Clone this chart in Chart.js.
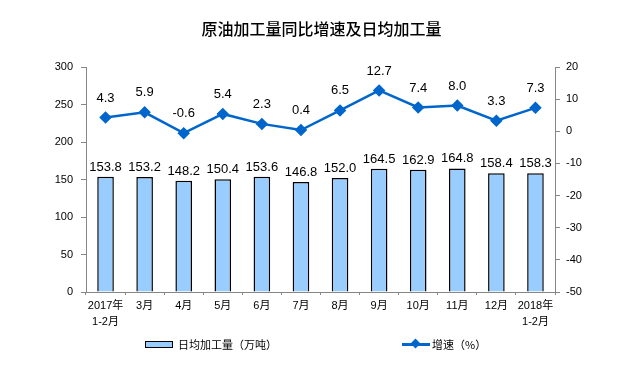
<!DOCTYPE html>
<html>
<head>
<meta charset="utf-8">
<script src="https://cdn.jsdelivr.net/npm/chart.js@4.4.1/dist/chart.umd.min.js"></script>
<style>
  body { margin: 0; background: #fff; }
  #wrap { position: relative; width: 633px; height: 372px; font-family: 'Liberation Sans', 'Noto Sans CJK SC', sans-serif; }
  #title { position: absolute; top: 16px; left: 5px; width: 633px; text-align: center; font-size: 16px; color: #000; font-family: 'Noto Sans CJK SC', sans-serif; font-weight: 500; }
  .leg { position: absolute; top: 336px; font-size: 11px; color: #000; font-family: 'Noto Sans CJK SC', sans-serif; line-height: 16px; }
  .box { position: absolute; left: 145px; top: 341px; width: 26px; height: 5px; background: #99ccff; border: 1px solid #000; }
  .ln { position: absolute; left: 402px; top: 343px; width: 28px; height: 3px; background: #0066cc; }
  .dia { position: absolute; left: 412px; top: 340px; width: 7px; height: 7px; background: #0066cc; transform: rotate(45deg); }
</style>
</head>
<body>
<div id="wrap">
  <canvas id="chart" width="633" height="372"></canvas>
  <div id="title">原油加工量同比增速及日均加工量</div>
  <div class="box"></div>
  <div class="leg" style="left:178px">日均加工量（万吨）</div>
  <div class="ln"></div><div class="dia"></div>
  <div class="leg" style="left:432px">增速（%）</div>
</div>
<script>
// months on the x axis
const months = [['2017年', '1-2月'], '3月', '4月', '5月', '6月', '7月', '8月', '9月', '10月', '11月', '12月', ['2018年', '1-2月']];
// daily average crude processing, 10k tonnes
const dailyOutput = [153.8, 153.2, 148.2, 150.4, 153.6, 146.8, 152.0, 164.5, 162.9, 164.8, 158.4, 158.3];
// year-on-year growth, %
const growth = [4.3, 5.9, -0.6, 5.4, 2.3, 0.4, 6.5, 12.7, 7.4, 8.0, 3.3, 7.3];

const labelPlugin = {
  id: 'valueLabels',
  afterDatasetsDraw(chart) {
    const ctx = chart.ctx;
    ctx.save();
    ctx.font = '13px "Liberation Sans", Arial, sans-serif';
    ctx.fillStyle = '#000';
    ctx.textAlign = 'center';
    ctx.textBaseline = 'bottom';
    chart.data.datasets.forEach((ds, i) => {
      const meta = chart.getDatasetMeta(i);
      meta.data.forEach((el, j) => {
        const off = ds.type === 'line' ? 13 : 3;
        ctx.fillText(ds.data[j].toFixed(1), el.x, el.y - off);
      });
    });
    ctx.restore();
  }
};

new Chart(document.getElementById('chart'), {
  data: {
    labels: months,
    datasets: [
      {
        type: 'line',
        label: '增速（%）',
        data: growth,
        yAxisID: 'y1',
        borderColor: '#0066cc',
        backgroundColor: '#0066cc',
        borderWidth: 2.5,
        pointStyle: 'rectRot',
        pointRadius: 4.5,
        pointHoverRadius: 4.5,
        tension: 0,
        order: 0
      },
      {
        type: 'bar',
        label: '日均加工量（万吨）',
        data: dailyOutput,
        yAxisID: 'y',
        backgroundColor: '#99ccff',
        borderColor: '#000',
        borderWidth: 1.5,
        categoryPercentage: 0.85,
        barPercentage: 0.5,
        order: 1
      }
    ]
  },
  options: {
    responsive: false,
    animation: false,
    layout: { padding: { top: 67, left: 0, right: 0, bottom: 0 } },
    plugins: {
      legend: { display: false },
      tooltip: { enabled: false }
    },
    scales: {
      x: {
        offset: true,
        grid: { offset: true, drawOnChartArea: false, tickLength: 3, color: '#868686' },
        border: { color: '#868686' },
        ticks: {
          color: '#000',
          padding: 3,
          maxRotation: 0,
          autoSkip: false,
          font: { size: 11, family: '"Liberation Sans", "Noto Sans CJK SC", sans-serif', lineHeight: 1.45 }
        },
        afterFit(scale) { scale.height = 80; }
      },
      y: {
        position: 'left',
        min: 0,
        max: 300,
        ticks: { stepSize: 50, color: '#000', padding: 8, font: { size: 11, family: '"Liberation Sans", sans-serif' } },
        grid: { drawOnChartArea: false, tickLength: 5, color: '#868686' },
        border: { color: '#868686' },
        afterFit(scale) { scale.width = 86; }
      },
      y1: {
        position: 'right',
        min: -50,
        max: 20,
        ticks: { stepSize: 10, color: '#000', padding: 6, font: { size: 11, family: '"Liberation Sans", sans-serif' } },
        grid: { drawOnChartArea: false, tickLength: 5, color: '#868686' },
        border: { color: '#868686' },
        afterFit(scale) { scale.width = 78; }
      }
    }
  },
  plugins: [labelPlugin]
});
</script>
</body>
</html>
